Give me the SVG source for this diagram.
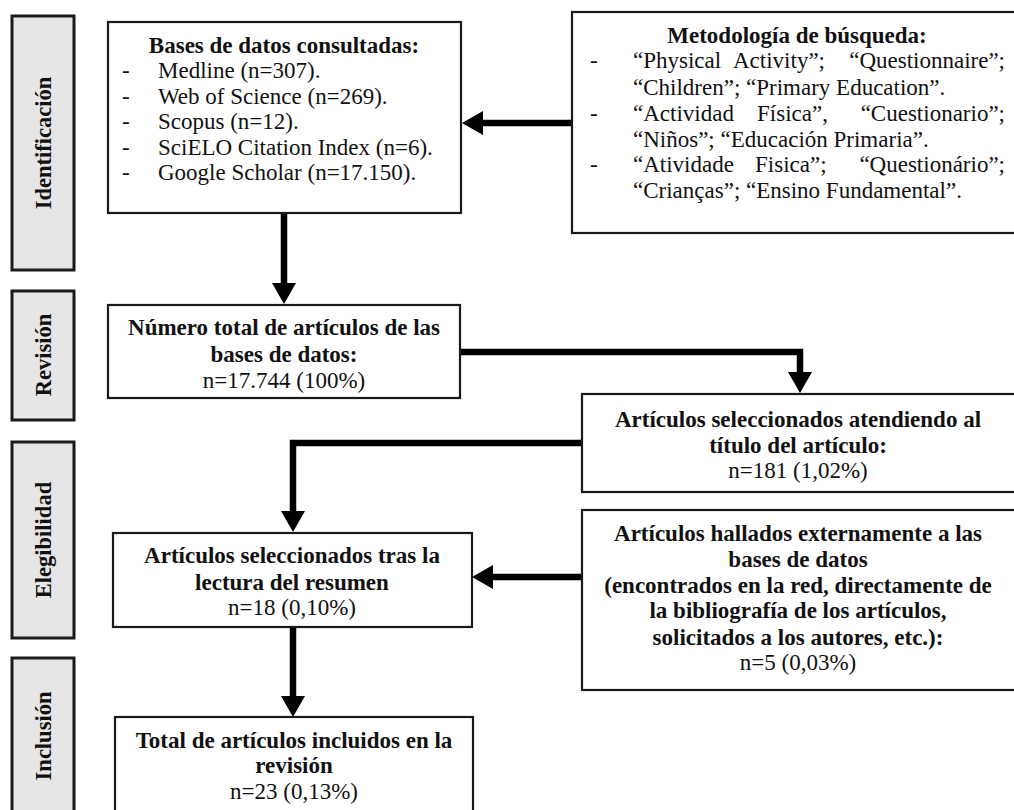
<svg xmlns="http://www.w3.org/2000/svg" width="1014" height="810" viewBox="0 0 1014 810">
<style>
.stage{fill:#e6e6e6;stroke:#1a1a1a;stroke-width:3}
.box{fill:#ffffff;stroke:#1a1a1a;stroke-width:2.2}
.t{font-family:"Liberation Serif","Times New Roman",serif;font-size:23px;fill:#111}
.b{font-weight:bold}
.c{text-anchor:middle}
.e{text-anchor:end}
.lab{font-family:"Liberation Serif","Times New Roman",serif;font-size:22.5px;font-weight:bold;fill:#111;text-anchor:middle}
.con{fill:none;stroke:#000;stroke-width:6.5;marker-end:url(#ah)}
</style>
<defs>
<marker id="ah" markerUnits="userSpaceOnUse" markerWidth="21" markerHeight="24" refX="2" refY="12" orient="auto">
<path d="M0,0 L21,12 L0,24 z" fill="#000"/>
</marker>
</defs>
<rect width="1014" height="810" fill="#ffffff"/>

<g id="stage-identificacion">
<rect class="stage" x="12" y="16" width="62" height="254"/>
<text class="lab" transform="translate(51,143) rotate(-90)">Identificación</text>
</g>
<g id="stage-revision">
<rect class="stage" x="12" y="291" width="62" height="129"/>
<text class="lab" transform="translate(51,355) rotate(-90)">Revisión</text>
</g>
<g id="stage-elegibilidad">
<rect class="stage" x="12" y="442" width="62" height="196"/>
<text class="lab" transform="translate(51,540) rotate(-90)">Elegibilidad</text>
</g>
<g id="stage-inclusion">
<rect class="stage" x="12" y="658" width="62" height="160"/>
<text class="lab" transform="translate(51,736) rotate(-90)">Inclusión</text>
</g>

<g id="connectors">
<path class="con" d="M572,123 H481"/>
<path class="con" d="M284,213 V285"/>
<path class="con" d="M460,352 H800 V374"/>
<path class="con" d="M582,443 H293 V513"/>
<path class="con" d="M582,577 H491"/>
<path class="con" d="M293,627 V698"/>
</g>

<g id="node-bases">
<rect class="box" x="108" y="22" width="353" height="191"/>
<text class="t b c" x="284" y="53">Bases de datos consultadas:</text>
<text class="t" x="122" y="78">-</text><text class="t" x="158" y="78">Medline (n=307).</text>
<text class="t" x="122" y="104">-</text><text class="t" x="158" y="104">Web of Science (n=269).</text>
<text class="t" x="122" y="129">-</text><text class="t" x="158" y="129">Scopus (n=12).</text>
<text class="t" x="122" y="155">-</text><text class="t" x="158" y="155">SciELO Citation Index (n=6).</text>
<text class="t" x="122" y="180">-</text><text class="t" x="158" y="180">Google Scholar (n=17.150).</text>
</g>

<g id="node-metodologia">
<rect class="box" x="572" y="12" width="460" height="221"/>
<text class="t b c" x="797" y="43">Metodología de búsqueda:</text>
<text class="t" x="590" y="68">-</text>
<text class="t" x="633" y="68">“Physical</text><text class="t" x="733" y="68">Activity”;</text><text class="t e" x="1005" y="68">“Questionnaire”;</text>
<text class="t" x="633" y="95">“Children”; “Primary Education”.</text>
<text class="t" x="590" y="121">-</text>
<text class="t" x="633" y="121">“Actividad</text><text class="t" x="757" y="121">Física”,</text><text class="t e" x="1005" y="121">“Cuestionario”;</text>
<text class="t" x="633" y="147">“Niños”; “Educación Primaria”.</text>
<text class="t" x="590" y="172">-</text>
<text class="t" x="633" y="172">“Atividade</text><text class="t" x="755" y="172">Fisica”;</text><text class="t e" x="1005" y="172">“Questionário”;</text>
<text class="t" x="633" y="198">“Crianças”; “Ensino Fundamental”.</text>
</g>

<g id="node-total-bases">
<rect class="box" x="108" y="305" width="352" height="93"/>
<text class="t b c" x="284" y="335">Número total de artículos de las</text>
<text class="t b c" x="284" y="362">bases de datos:</text>
<text class="t c" x="284" y="388">n=17.744 (100%)</text>
</g>

<g id="node-titulo">
<rect class="box" x="582" y="394" width="450" height="98"/>
<text class="t b c" x="798" y="427">Artículos seleccionados atendiendo al</text>
<text class="t b c" x="798" y="453">título del artículo:</text>
<text class="t c" x="798" y="478">n=181 (1,02%)</text>
</g>

<g id="node-resumen">
<rect class="box" x="113" y="533" width="359" height="94"/>
<text class="t b c" x="292" y="563">Artículos seleccionados tras la</text>
<text class="t b c" x="292" y="590">lectura del resumen</text>
<text class="t c" x="292" y="615">n=18 (0,10%)</text>
</g>

<g id="node-externos">
<rect class="box" x="582" y="510" width="450" height="180"/>
<text class="t b c" x="798" y="541">Artículos hallados externamente a las</text>
<text class="t b c" x="798" y="567">bases de datos</text>
<text class="t b c" x="798" y="593">(encontrados en la red, directamente de</text>
<text class="t b c" x="798" y="618">la bibliografía de los artículos,</text>
<text class="t b c" x="798" y="645">solicitados a los autores, etc.):</text>
<text class="t c" x="798" y="670">n=5 (0,03%)</text>
</g>

<g id="node-incluidos">
<rect class="box" x="115" y="717" width="358" height="110"/>
<text class="t b c" x="294" y="748">Total de artículos incluidos en la</text>
<text class="t b c" x="294" y="773">revisión</text>
<text class="t c" x="294" y="799">n=23 (0,13%)</text>
</g>
</svg>
